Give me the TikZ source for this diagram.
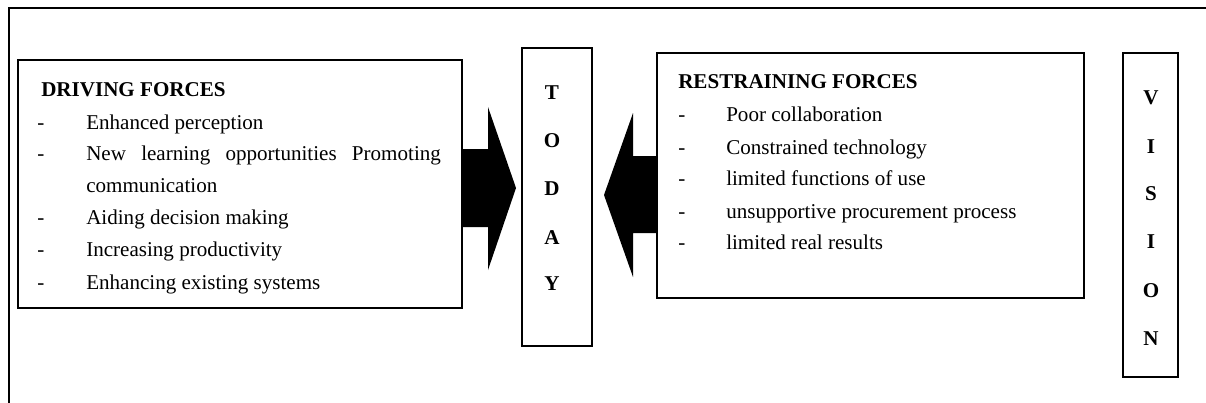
\documentclass[tikz,border=0pt]{standalone}
\usepackage{fontspec}
\setmainfont{Liberation Serif}
\begin{document}
\begin{tikzpicture}[x=0.75pt,y=-0.75pt,
  box/.style={draw,line width=1.4pt,inner sep=0pt},
  txt/.style={anchor=base west,inner sep=0pt,font=\fontsize{15.8}{19}\selectfont},
  head/.style={txt,font=\fontsize{15.8}{19}\selectfont\bfseries},
  letter/.style={anchor=base,inner sep=0pt,font=\fontsize{15.8}{19}\selectfont\bfseries},
  blockarrow/.style={fill=black}]
\useasboundingbox (0,0) rectangle (1206,403);
% outer frame
\draw[line width=1.4pt] (9,403) -- (9,8) -- (1206,8);
% boxes
\node[box,minimum width=333pt,minimum height=186pt] (drive) at (240,184) {};
\node[box,minimum width=52.5pt,minimum height=223.5pt] (today) at (557,197) {};
\node[box,minimum width=320.25pt,minimum height=183.75pt] (restrain) at (870.5,175.5) {};
\node[box,minimum width=41.25pt,minimum height=243pt] (vision) at (1150.5,215) {};
% driving forces text
\node[head] (dh) at (41,96) {DRIVING FORCES};
\node[txt] (dd1) at (37,129) {-};
\node[txt] (dt1) at (86,129) {Enhanced perception};
\node[txt] (dd2) at (37,160) {-};
\node[txt] (dt2) at (86,160) {\makebox[266pt][s]{New learning opportunities Promoting}};
\node[txt] (dt2b) at (86,192) {communication};
\node[txt] (dd3) at (37,224) {-};
\node[txt] (dt3) at (86,224) {Aiding decision making};
\node[txt] (dd4) at (37,256) {-};
\node[txt] (dt4) at (86,256) {Increasing productivity};
\node[txt] (dd5) at (37,289) {-};
\node[txt] (dt5) at (86,289) {Enhancing existing systems};
% restraining forces text
\node[head] (rh) at (678,89) {RESTRAINING FORCES};
\node[txt] (rd1) at (678,121) {-};
\node[txt] (rt1) at (726,121) {Poor collaboration};
\node[txt] (rd2) at (678,154) {-};
\node[txt] (rt2) at (726,154) {Constrained technology};
\node[txt] (rd3) at (678,185) {-};
\node[txt] (rt3) at (726,185) {limited functions of use};
\node[txt] (rd4) at (678,218) {-};
\node[txt] (rt4) at (726,218) {unsupportive procurement process};
\node[txt] (rd5) at (678,249) {-};
\node[txt] (rt5) at (726,249) {limited real results};
% TODAY letters
\node[letter] (t1) at (552,99) {T};
\node[letter] (t2) at (552,147) {O};
\node[letter] (t3) at (552,195) {D};
\node[letter] (t4) at (552,244) {A};
\node[letter] (t5) at (552,290) {Y};
% VISION letters
\node[letter] (v1) at (1151,104) {V};
\node[letter] (v2) at (1151,153) {I};
\node[letter] (v3) at (1151,200) {S};
\node[letter] (v4) at (1151,248) {I};
\node[letter] (v5) at (1151,297) {O};
\node[letter] (v6) at (1151,345) {N};
% block arrows
\fill[blockarrow] (drive.east |- 0,149) -- (488,149) -- (488,107) -- (516,188)
  -- (488,270) -- (488,227) -- (drive.east |- 0,227) -- cycle;
\fill[blockarrow] (restrain.west |- 0,156) -- (633,156) -- (633,113) -- (604,195)
  -- (633,277) -- (633,233) -- (restrain.west |- 0,233) -- cycle;
\end{tikzpicture}
\end{document}
